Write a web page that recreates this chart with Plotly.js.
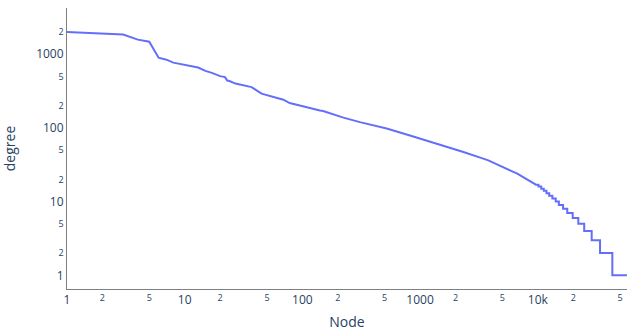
<!DOCTYPE html>
<html>
<head>
<meta charset="utf-8">
<script src="https://cdn.plot.ly/plotly-3.0.1.min.js"></script>
<style>html,body{margin:0;padding:0;background:#fff;}#chart{width:627px;height:335px;}</style>
</head>
<body>
<div id="chart"></div>
<script>
// Upper part: rank -> degree (distinct degrees)
const rankUpper = [1, 2, 3, 4, 5, 6, 7, 8, 9, 10, 13, 15, 17, 20, 22, 23, 24, 27, 33, 37, 45, 57, 69, 78, 95, 116, 141, 150, 223, 308, 520, 820, 1575, 2300, 3440, 3800, 5800, 6700, 7700, 8650, 9150];
const degreeUpper = [2000, 1920, 1850, 1580, 1480, 900, 845, 770, 745, 720, 660, 595, 560, 505, 490, 440, 433, 400, 368, 358, 292, 262, 242, 218, 201, 183, 172, 170, 138, 120, 98, 79, 58, 47.4, 38.3, 36.3, 26.6, 24, 21, 19, 18];
// Lower part: degree levels and first rank at which each level starts
const stepDegree = [17, 16, 15, 14, 13, 12, 11, 10, 9, 8, 7, 6, 5, 4, 3, 2, 1];
const stepStart = [9650, 10150, 10700, 11250, 11850, 12500, 13300, 14200, 15100, 16400, 17800, 19800, 22100, 24800, 28700, 33800, 43000];
const lastRank = 57200;

const xs = rankUpper.slice();
const ys = degreeUpper.slice();
for (let i = 0; i < stepDegree.length; i++) {
  const end = i + 1 < stepStart.length ? stepStart[i + 1] - 1 : lastRank;
  xs.push(stepStart[i], end);
  ys.push(stepDegree[i], stepDegree[i]);
}

const trace = {
  x: xs, y: ys, type: 'scatter', mode: 'lines',
  line: {color: '#636efa', width: 2}
};
const axisCommon = {
  type: 'log', showgrid: false, zeroline: false, showline: true,
  linecolor: '#7f7f7f', linewidth: 1, ticks: '', dtick: 'D2',
  tickfont: {size: 12, color: '#2a3f5f'}, automargin: true
};
const layout = {
  width: 627, height: 335,
  margin: {l: 67, r: 0, t: 8, b: 46},
  paper_bgcolor: '#fff', plot_bgcolor: '#fff',
  font: {family: '"Open Sans", verdana, arial, sans-serif', color: '#2a3f5f'},
  showlegend: false,
  xaxis: Object.assign({}, axisCommon, {range: [0, 4.758], title: {text: 'Node', font: {size: 14}, standoff: 9}}),
  yaxis: Object.assign({}, axisCommon, {range: [-0.186, 3.628], title: {text: 'degree', font: {size: 14}, standoff: 22}})
};
Plotly.newPlot('chart', [trace], layout, {displayModeBar: false, staticPlot: true});
</script>
</body>
</html>
